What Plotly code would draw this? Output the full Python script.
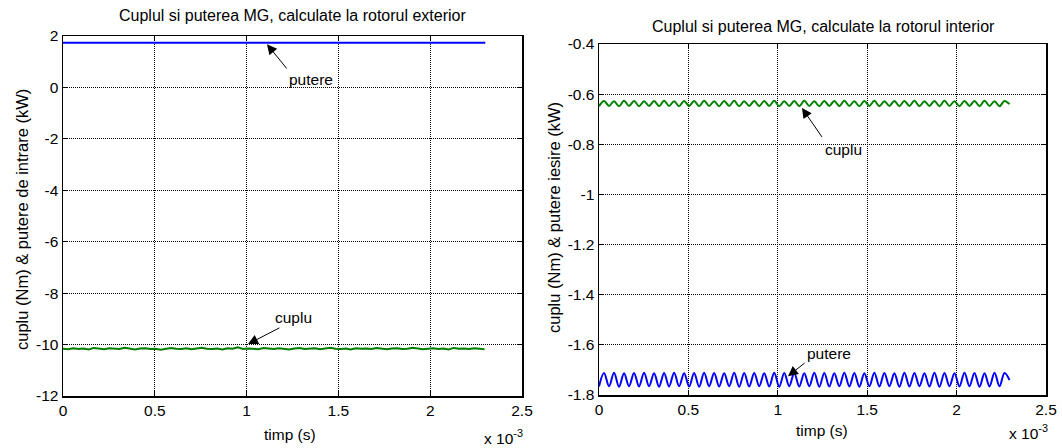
import plotly.graph_objects as go

# ---------------- data (time in ms, axis shown with "x 10^-3") ----------------
t_ms = [
    0.000, 0.028, 0.056, 0.084, 0.112, 0.140, 0.168, 0.196, 0.224, 0.252,
    0.280, 0.308, 0.336, 0.364, 0.392, 0.420, 0.448, 0.476, 0.504, 0.532,
    0.560, 0.588, 0.616, 0.644, 0.672, 0.700, 0.728, 0.756, 0.784, 0.812,
    0.840, 0.868, 0.896, 0.924, 0.952, 0.980, 1.008, 1.036, 1.064, 1.092,
    1.120, 1.148, 1.176, 1.204, 1.232, 1.260, 1.288, 1.316, 1.344, 1.372,
    1.400, 1.428, 1.456, 1.484, 1.512, 1.540, 1.568, 1.596, 1.624, 1.652,
    1.680, 1.708, 1.736, 1.764, 1.792, 1.820, 1.848, 1.876, 1.904, 1.932,
    1.960, 1.988, 2.016, 2.044, 2.072, 2.100, 2.128, 2.156, 2.184, 2.212,
    2.240, 2.268, 2.296,
]

# left chart (rotorul exterior)
t_putere_ext = [0.0, 2.3]
putere_ext = [1.74, 1.74]
cuplu_ext = [
    -10.16, -10.18, -10.14, -10.17, -10.15, -10.19, -10.13, -10.16, -10.18, -10.14,
    -10.15, -10.17, -10.12, -10.16, -10.19, -10.15, -10.14, -10.17, -10.16, -10.20,
    -10.15, -10.13, -10.16, -10.17, -10.14, -10.18, -10.15, -10.12, -10.16, -10.17,
    -10.15, -10.19, -10.14, -10.16, -10.11, -10.17, -10.15, -10.16, -10.18, -10.13,
    -10.15, -10.17, -10.14, -10.16, -10.19, -10.15, -10.13, -10.17, -10.16, -10.14,
    -10.18, -10.15, -10.12, -10.16, -10.17, -10.15, -10.19, -10.14, -10.16, -10.15,
    -10.17, -10.13, -10.16, -10.18, -10.15, -10.14, -10.17, -10.16, -10.12, -10.15,
    -10.18, -10.16, -10.14, -10.17, -10.15, -10.19, -10.13, -10.16, -10.15, -10.17,
    -10.14, -10.16, -10.18,
]

# right chart (rotorul interior)
cuplu_int = [
    -0.648, -0.627, -0.647, -0.628, -0.648, -0.626, -0.647, -0.627, -0.648, -0.628,
    -0.647, -0.627, -0.648, -0.626, -0.647, -0.628, -0.648, -0.627, -0.647, -0.627,
    -0.648, -0.626, -0.647, -0.628, -0.648, -0.627, -0.647, -0.626, -0.648, -0.628,
    -0.647, -0.627, -0.648, -0.627, -0.647, -0.626, -0.648, -0.628, -0.647, -0.627,
    -0.648, -0.626, -0.647, -0.628, -0.648, -0.627, -0.647, -0.627, -0.648, -0.626,
    -0.647, -0.628, -0.648, -0.627, -0.647, -0.626, -0.648, -0.628, -0.647, -0.627,
    -0.648, -0.627, -0.647, -0.626, -0.648, -0.628, -0.647, -0.627, -0.648, -0.626,
    -0.647, -0.628, -0.648, -0.627, -0.647, -0.627, -0.648, -0.626, -0.647, -0.628,
    -0.648, -0.627, -0.640,
]
putere_int = [
    -1.766, -1.712, -1.765, -1.711, -1.767, -1.713, -1.765, -1.712, -1.766, -1.711,
    -1.765, -1.713, -1.767, -1.712, -1.766, -1.711, -1.765, -1.713, -1.766, -1.712,
    -1.767, -1.711, -1.765, -1.712, -1.766, -1.713, -1.765, -1.711, -1.767, -1.712,
    -1.766, -1.712, -1.765, -1.713, -1.766, -1.711, -1.767, -1.712, -1.765, -1.712,
    -1.766, -1.713, -1.765, -1.711, -1.767, -1.712, -1.766, -1.713, -1.765, -1.711,
    -1.766, -1.712, -1.767, -1.713, -1.765, -1.711, -1.766, -1.712, -1.765, -1.713,
    -1.767, -1.711, -1.766, -1.712, -1.765, -1.713, -1.766, -1.711, -1.767, -1.712,
    -1.765, -1.713, -1.766, -1.711, -1.765, -1.712, -1.767, -1.713, -1.766, -1.711,
    -1.765, -1.712, -1.740,
]

x_ticks = [0, 0.5, 1, 1.5, 2, 2.5]
x_ticktext = ["0", "0.5", "1", "1.5", "2", "2.5"]
y1_ticks = [2, 0, -2, -4, -6, -8, -10, -12]
y1_ticktext = ["2", "0", "-2", "-4", "-6", "-8", "-10", "-12"]
y2_ticks = [-0.4, -0.6, -0.8, -1.0, -1.2, -1.4, -1.6, -1.8]
y2_ticktext = ["-0.4", "-0.6", "-0.8", "-1", "-1.2", "-1.4", "-1.6", "-1.8"]

title_left = "Cuplul si puterea MG, calculate la rotorul exterior"
title_right = "Cuplul si puterea MG, calculate la rotorul interior"
ylabel_left = "cuplu (Nm) & putere de intrare (kW)"
ylabel_right = "cuplu (Nm) & putere iesire (kW)"
xlabel = "timp (s)"

# ---------------- figure ----------------
W, H = 1062, 448
FONT = "Liberation Sans, Arial, sans-serif"
BLUE = "#0000FF"
GREEN = "#008000"
FS = 15.5

def px(x):
    return x / W

def py(y):
    return (H - y) / H

fig = go.Figure()
fig.add_trace(go.Scatter(x=t_putere_ext, y=putere_ext, mode="lines",
                         line=dict(color=BLUE, width=2), xaxis="x", yaxis="y"))
fig.add_trace(go.Scatter(x=t_ms, y=cuplu_ext, mode="lines",
                         line=dict(color=GREEN, width=2), xaxis="x", yaxis="y"))
fig.add_trace(go.Scatter(x=t_ms, y=cuplu_int, mode="lines", line_shape="spline",
                         line=dict(color=GREEN, width=2), xaxis="x2", yaxis="y2"))
fig.add_trace(go.Scatter(x=t_ms, y=putere_int, mode="lines", line_shape="spline",
                         line=dict(color=BLUE, width=2), xaxis="x2", yaxis="y2"))

axis_common = dict(
    showline=True, linecolor="black", linewidth=1.5, mirror="ticks",
    ticks="inside", ticklen=5, tickcolor="black", tickwidth=1,
    showgrid=True, gridcolor="black", gridwidth=1, griddash="1px,1px",
    zeroline=False, automargin=False,
    tickfont=dict(family=FONT, size=FS, color="black"),
)

fig.update_layout(
    template="none",
    width=W, height=H, autosize=False,
    margin=dict(l=0, r=0, t=0, b=0, pad=0),
    paper_bgcolor="white", plot_bgcolor="white",
    showlegend=False,
    font=dict(family=FONT, size=FS, color="black"),
    xaxis=dict(domain=[px(63), px(522)], range=[0, 2.5], anchor="y",
               tickvals=x_ticks, ticktext=x_ticktext, **axis_common),
    yaxis=dict(domain=[py(396), py(36)], range=[-12, 2], anchor="x",
               tickvals=y1_ticks, ticktext=y1_ticktext, **axis_common),
    xaxis2=dict(domain=[px(599), px(1046)], range=[0, 2.5], anchor="y2",
                tickvals=x_ticks, ticktext=x_ticktext, **axis_common),
    yaxis2=dict(domain=[py(395), py(44)], range=[-1.8, -0.4], anchor="x2",
                tickvals=y2_ticks, ticktext=y2_ticktext, **axis_common),
)

ann = []
def text(x, y, s, size=FS, angle=0):
    ann.append(dict(xref="paper", yref="paper", x=px(x), y=py(y), text=s,
                    showarrow=False, xanchor="center", yanchor="middle",
                    textangle=angle, font=dict(family=FONT, size=size, color="black")))

text(292, 16, title_left, size=16)
text(823, 26, title_right, size=16)
text(22, 220, ylabel_left, size=16.5, angle=-90)
text(554, 218, ylabel_right, size=16.5, angle=-90)
text(290, 434, xlabel)
text(822, 430, xlabel)
text(503, 437, "x 10<sup>-3</sup>")
text(1028, 432, "x 10<sup>-3</sup>")

def arrow(xr, yr, tip, tail, label, label_pos):
    ann.append(dict(xref=xr, yref=yr, axref=xr, ayref=yr,
                    x=tip[0], y=tip[1], ax=tail[0], ay=tail[1], text="",
                    showarrow=True, arrowhead=2, arrowsize=2, arrowwidth=1,
                    arrowcolor="black", standoff=0, startstandoff=0))
    ann.append(dict(xref=xr, yref=yr, x=label_pos[0], y=label_pos[1], text=label,
                    showarrow=False, xanchor="center", yanchor="middle",
                    font=dict(family=FONT, size=FS, color="black")))

arrow("x", "y", (1.111, 1.68), (1.225, 0.68), "putere", (1.351, 0.29))
arrow("x", "y", (1.008, -9.98), (1.187, -9.32), "cuplu", (1.253, -8.93))
arrow("x2", "y2", (1.135, -0.655), (1.253, -0.777), "cuplu", (1.365, -0.821))
arrow("x2", "y2", (1.057, -1.725), (1.158, -1.668), "putere", (1.286, -1.635))

fig.update_layout(annotations=ann)
fig.write_html(
    "out.html",
    config={"displayModeBar": False, "staticPlot": True},
    post_script="document.body.style.margin='0';document.body.style.overflow='hidden';",
)
